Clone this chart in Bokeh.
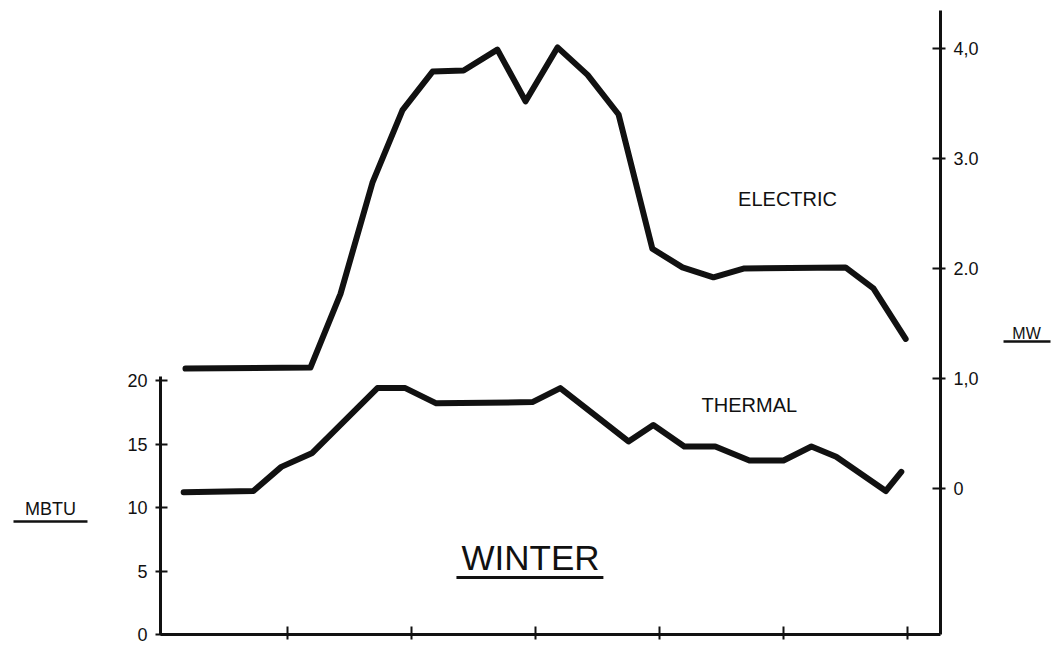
from bokeh.plotting import figure
from bokeh.models import Range1d, LinearAxis, FixedTicker, Label, Arrow
from bokeh.embed import file_html
from bokeh.resources import INLINE

# ---- data ----
elec_hours = [0.71, 4.74, 5.71, 6.74, 7.71, 8.68, 9.68, 10.77, 11.68, 12.71,
              13.68, 14.68, 15.77, 16.74, 17.74, 18.71, 22.0, 22.9, 23.94]
elec_mw = [1.09, 1.10, 1.77, 2.78, 3.44, 3.79, 3.80, 3.99, 3.52, 4.01,
           3.76, 3.40, 2.18, 2.01, 1.92, 2.00, 2.01, 1.82, 1.36]
therm_hours = [0.65, 2.9, 3.8, 4.8, 6.9, 7.8, 8.8, 11.9, 12.8, 15.0,
               15.8, 16.8, 17.8, 18.9, 20.0, 20.9, 21.7, 23.3, 23.8]
therm_mbtu = [11.2, 11.3, 13.2, 14.3, 19.4, 19.4, 18.2, 18.3, 19.4, 15.2,
              16.5, 14.8, 14.8, 13.7, 13.7, 14.8, 14.0, 11.3, 12.8]
hour_ticks = [4, 8, 12, 16, 20, 24]
mbtu_ticks = [0, 5, 10, 15, 20]
mw_ticks = [0, 1, 2, 3, 4]
mw_tick_labels = ["0", "1,0", "2.0", "3.0", "4,0"]

FONT = "Liberation Sans"
INK = "#111111"

# frame covers the whole canvas; axes are drawn at fixed locations
p = figure(frame_width=1055, frame_height=644,
           min_border_left=0, min_border_top=0, min_border_right=0,
           min_border_bottom=0,
           x_range=Range1d(-5.258, 28.774), y_range=Range1d(-0.787, 49.921),
           output_backend="svg", toolbar_location=None)
p.extra_y_ranges = {"mw": Range1d(-1.418, 4.4364)}
p.grid.visible = False
p.outline_line_color = None
p.background_fill_color = "white"
p.border_fill_color = "white"

X_LEFT, X_RIGHT = -0.097, 25.065

# bottom axis (hours, no labels)
xa = p.xaxis[0]
xa.fixed_location = 0
xa.bounds = (X_LEFT, X_RIGHT)
xa.ticker = FixedTicker(ticks=hour_ticks)
xa.minor_tick_line_color = None
xa.major_tick_in = 8
xa.major_tick_out = 5
xa.major_tick_line_width = 2
xa.major_tick_line_color = INK
xa.axis_line_width = 3
xa.axis_line_color = INK
xa.major_label_text_color = None

# left axis (MBTU)
ya = p.yaxis[0]
ya.fixed_location = X_LEFT
ya.ticker = FixedTicker(ticks=mbtu_ticks)
ya.bounds = (0, 20.3)
ya.minor_tick_line_color = None
ya.major_tick_in = 7
ya.major_tick_out = 5
ya.major_tick_line_width = 2
ya.major_tick_line_color = INK
ya.axis_line_width = 3
ya.axis_line_color = INK
ya.major_label_text_font = FONT
ya.major_label_text_font_size = "18px"
ya.major_label_text_color = INK
ya.major_label_standoff = 8

# right axis (MW)
ra = LinearAxis(y_range_name="mw", ticker=FixedTicker(ticks=mw_ticks),
                fixed_location=X_RIGHT, bounds=(-1.327, 4.345),
                major_label_overrides={t: s for t, s in zip(mw_ticks, mw_tick_labels)})
ra.minor_tick_line_color = None
ra.major_tick_in = 8
ra.major_tick_out = 5
ra.major_tick_line_width = 2
ra.major_tick_line_color = INK
ra.axis_line_width = 3
ra.axis_line_color = INK
ra.major_label_text_font = FONT
ra.major_label_text_font_size = "18px"
ra.major_label_text_color = INK
ra.major_label_standoff = 8
p.add_layout(ra, "right")

# curves
p.line(elec_hours, elec_mw, y_range_name="mw", line_width=6, line_color=INK,
       line_join="round", line_cap="round")
p.line(therm_hours, therm_mbtu, line_width=6, line_color=INK,
       line_join="round", line_cap="round")

def lab(x, y, t, size, rng="default"):
    p.add_layout(Label(x=x, y=y, text=t, y_range_name=rng, text_font=FONT,
                       text_font_size=size, text_color=INK, text_align="center",
                       text_baseline="middle"))

def underline(x0, x1, y, rng="default", w=2.5):
    p.add_layout(Arrow(end=None, x_start=x0, x_end=x1, y_start=y, y_end=y,
                       y_range_name=rng, line_width=w, line_color=INK))

lab(20.13, 2.636, "ELECTRIC", "20px", "mw")
lab(18.9, 18.11, "THERMAL", "20px")
lab(11.84, 6.06, "WINTER", "35px")
underline(9.45, 14.19, 4.49, w=3)
lab(-3.645, 9.92, "MBTU", "18px")
underline(-4.839, -2.452, 8.898)
lab(27.84, 1.409, "MW", "16px", "mw")
underline(27.097, 28.613, 1.336, "mw")

open("out.html", "w").write(file_html(p, INLINE))
